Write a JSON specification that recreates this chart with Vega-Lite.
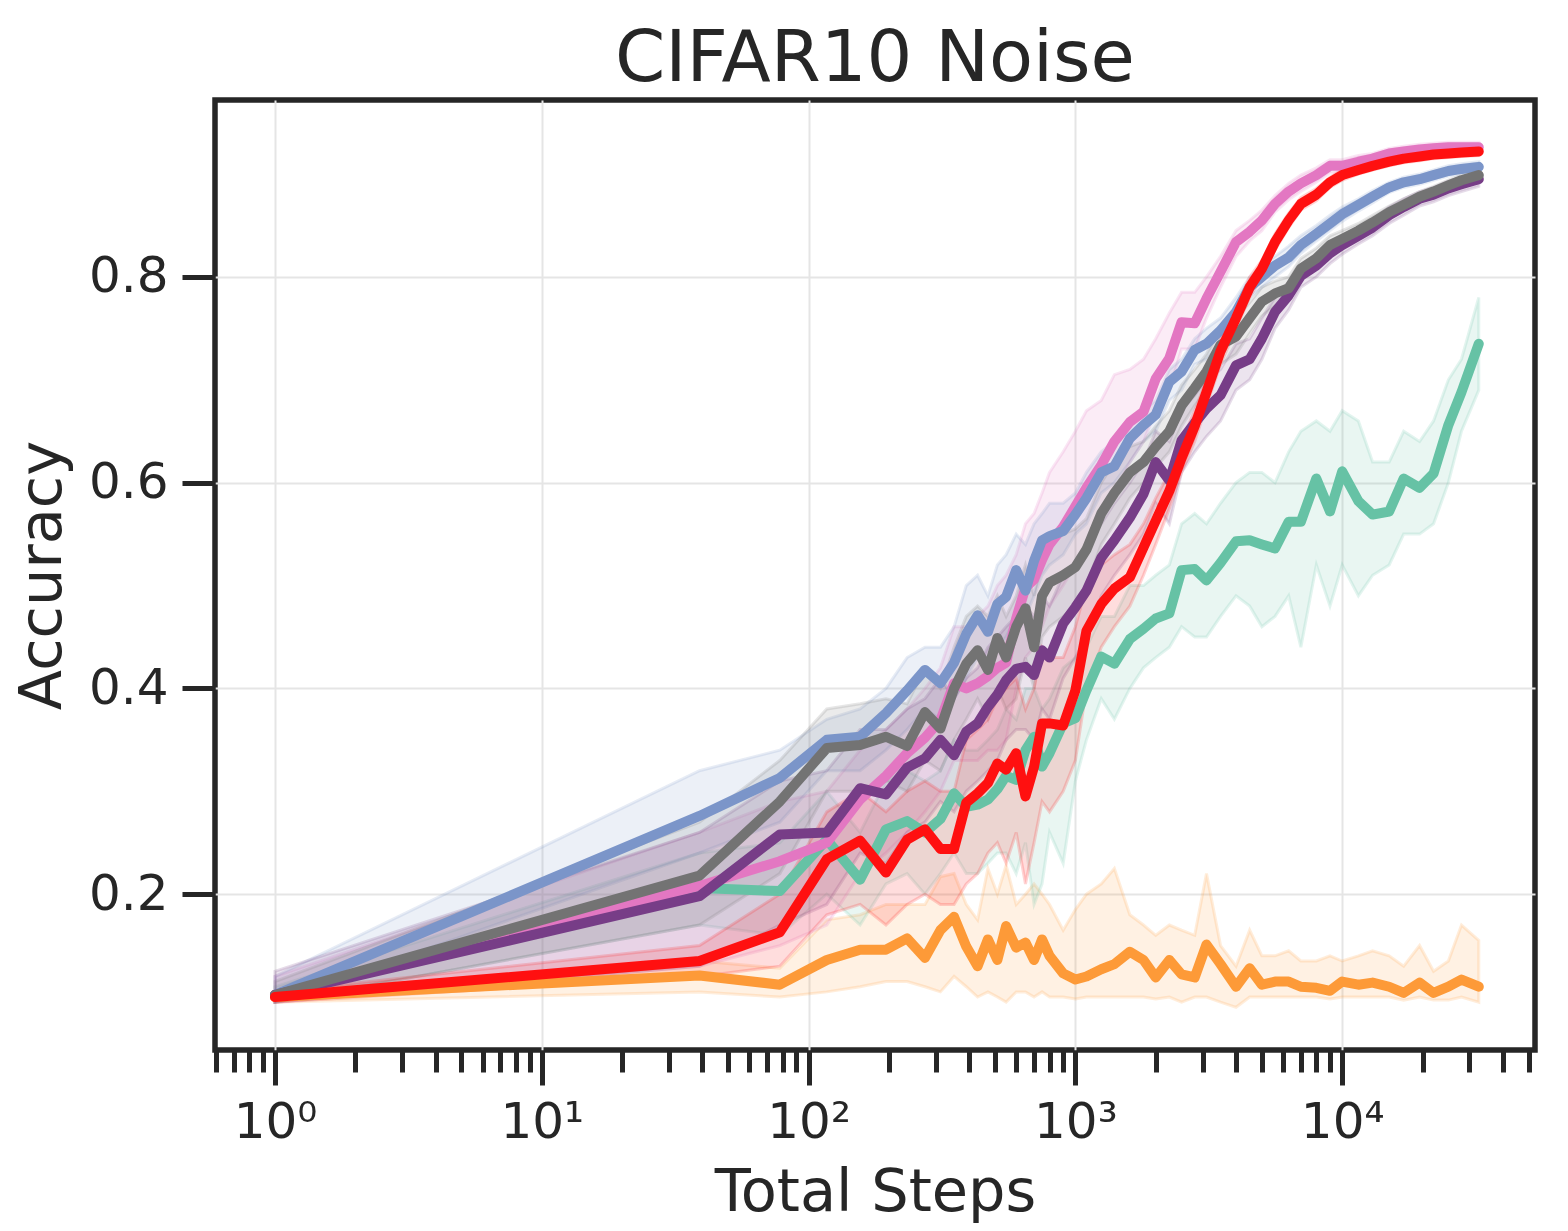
{
  "$schema": "https://vega.github.io/schema/vega-lite/v6.json",
  "width": 1320,
  "height": 950,
  "autosize": "none",
  "padding": {"left": 215, "top": 100, "right": 33, "bottom": 181},
  "background": "white",
  "title": {"text": "CIFAR10 Noise", "fontSize": 72, "font": "DejaVu Sans", "fontWeight": "normal", "color": "#262626", "offset": 4},
  "data": {
    "values": [
      {"s":"orange","x":1,"y":0.100,"lo":0.095,"hi":0.105},
      {"s":"orange","x":39,"y":0.121,"lo":0.105,"hi":0.135},
      {"s":"orange","x":78,"y":0.112,"lo":0.100,"hi":0.128},
      {"s":"orange","x":117,"y":0.136,"lo":0.105,"hi":0.175},
      {"s":"orange","x":156,"y":0.146,"lo":0.110,"hi":0.180},
      {"s":"orange","x":195,"y":0.146,"lo":0.115,"hi":0.190},
      {"s":"orange","x":234,"y":0.157,"lo":0.115,"hi":0.190},
      {"s":"orange","x":273,"y":0.138,"lo":0.110,"hi":0.190},
      {"s":"orange","x":312,"y":0.165,"lo":0.105,"hi":0.217},
      {"s":"orange","x":351,"y":0.178,"lo":0.120,"hi":0.220},
      {"s":"orange","x":390,"y":0.149,"lo":0.110,"hi":0.190},
      {"s":"orange","x":430,"y":0.130,"lo":0.100,"hi":0.175},
      {"s":"orange","x":470,"y":0.156,"lo":0.105,"hi":0.225},
      {"s":"orange","x":510,"y":0.136,"lo":0.100,"hi":0.200},
      {"s":"orange","x":550,"y":0.169,"lo":0.095,"hi":0.228},
      {"s":"orange","x":600,"y":0.148,"lo":0.105,"hi":0.190},
      {"s":"orange","x":650,"y":0.153,"lo":0.105,"hi":0.200},
      {"s":"orange","x":700,"y":0.136,"lo":0.100,"hi":0.210},
      {"s":"orange","x":750,"y":0.156,"lo":0.105,"hi":0.200},
      {"s":"orange","x":800,"y":0.140,"lo":0.100,"hi":0.190},
      {"s":"orange","x":900,"y":0.123,"lo":0.100,"hi":0.165},
      {"s":"orange","x":1000,"y":0.117,"lo":0.098,"hi":0.185},
      {"s":"orange","x":1100,"y":0.120,"lo":0.100,"hi":0.200},
      {"s":"orange","x":1250,"y":0.127,"lo":0.100,"hi":0.210},
      {"s":"orange","x":1400,"y":0.132,"lo":0.100,"hi":0.225},
      {"s":"orange","x":1600,"y":0.144,"lo":0.100,"hi":0.180},
      {"s":"orange","x":1800,"y":0.136,"lo":0.100,"hi":0.170},
      {"s":"orange","x":2000,"y":0.119,"lo":0.098,"hi":0.160},
      {"s":"orange","x":2250,"y":0.136,"lo":0.100,"hi":0.170},
      {"s":"orange","x":2500,"y":0.122,"lo":0.095,"hi":0.165},
      {"s":"orange","x":2800,"y":0.119,"lo":0.100,"hi":0.160},
      {"s":"orange","x":3100,"y":0.151,"lo":0.100,"hi":0.220},
      {"s":"orange","x":3500,"y":0.132,"lo":0.095,"hi":0.150},
      {"s":"orange","x":4000,"y":0.110,"lo":0.090,"hi":0.130},
      {"s":"orange","x":4500,"y":0.128,"lo":0.100,"hi":0.165},
      {"s":"orange","x":5000,"y":0.112,"lo":0.100,"hi":0.140},
      {"s":"orange","x":5600,"y":0.115,"lo":0.100,"hi":0.140},
      {"s":"orange","x":6300,"y":0.115,"lo":0.100,"hi":0.145},
      {"s":"orange","x":7000,"y":0.110,"lo":0.100,"hi":0.135},
      {"s":"orange","x":8000,"y":0.109,"lo":0.100,"hi":0.135},
      {"s":"orange","x":9000,"y":0.106,"lo":0.098,"hi":0.140},
      {"s":"orange","x":10000,"y":0.115,"lo":0.100,"hi":0.135},
      {"s":"orange","x":11500,"y":0.112,"lo":0.100,"hi":0.140},
      {"s":"orange","x":13000,"y":0.114,"lo":0.100,"hi":0.145},
      {"s":"orange","x":15000,"y":0.110,"lo":0.100,"hi":0.140},
      {"s":"orange","x":17000,"y":0.104,"lo":0.097,"hi":0.130},
      {"s":"orange","x":19500,"y":0.114,"lo":0.100,"hi":0.150},
      {"s":"orange","x":22000,"y":0.104,"lo":0.097,"hi":0.125},
      {"s":"orange","x":25000,"y":0.110,"lo":0.097,"hi":0.135},
      {"s":"orange","x":28000,"y":0.117,"lo":0.100,"hi":0.170},
      {"s":"orange","x":32500,"y":0.110,"lo":0.095,"hi":0.155},

      {"s":"teal","x":1,"y":0.102,"lo":0.095,"hi":0.110},
      {"s":"teal","x":39,"y":0.206,"lo":0.170,"hi":0.240},
      {"s":"teal","x":78,"y":0.203,"lo":0.160,"hi":0.250},
      {"s":"teal","x":117,"y":0.253,"lo":0.200,"hi":0.300},
      {"s":"teal","x":156,"y":0.214,"lo":0.170,"hi":0.260},
      {"s":"teal","x":195,"y":0.263,"lo":0.210,"hi":0.310},
      {"s":"teal","x":234,"y":0.271,"lo":0.220,"hi":0.320},
      {"s":"teal","x":273,"y":0.260,"lo":0.200,"hi":0.310},
      {"s":"teal","x":312,"y":0.273,"lo":0.220,"hi":0.320},
      {"s":"teal","x":351,"y":0.298,"lo":0.240,"hi":0.350},
      {"s":"teal","x":390,"y":0.285,"lo":0.220,"hi":0.340},
      {"s":"teal","x":430,"y":0.287,"lo":0.220,"hi":0.340},
      {"s":"teal","x":470,"y":0.292,"lo":0.230,"hi":0.350},
      {"s":"teal","x":510,"y":0.302,"lo":0.240,"hi":0.360},
      {"s":"teal","x":550,"y":0.315,"lo":0.240,"hi":0.380},
      {"s":"teal","x":600,"y":0.311,"lo":0.220,"hi":0.370},
      {"s":"teal","x":650,"y":0.340,"lo":0.250,"hi":0.400},
      {"s":"teal","x":700,"y":0.353,"lo":0.190,"hi":0.400},
      {"s":"teal","x":750,"y":0.324,"lo":0.210,"hi":0.380},
      {"s":"teal","x":800,"y":0.337,"lo":0.260,"hi":0.390},
      {"s":"teal","x":900,"y":0.366,"lo":0.230,"hi":0.420},
      {"s":"teal","x":1000,"y":0.371,"lo":0.310,"hi":0.430},
      {"s":"teal","x":1100,"y":0.398,"lo":0.350,"hi":0.440},
      {"s":"teal","x":1250,"y":0.431,"lo":0.390,"hi":0.470},
      {"s":"teal","x":1400,"y":0.424,"lo":0.370,"hi":0.470},
      {"s":"teal","x":1600,"y":0.448,"lo":0.400,"hi":0.500},
      {"s":"teal","x":1800,"y":0.458,"lo":0.420,"hi":0.500},
      {"s":"teal","x":2000,"y":0.468,"lo":0.430,"hi":0.510},
      {"s":"teal","x":2250,"y":0.473,"lo":0.440,"hi":0.520},
      {"s":"teal","x":2500,"y":0.515,"lo":0.460,"hi":0.560},
      {"s":"teal","x":2800,"y":0.516,"lo":0.450,"hi":0.570},
      {"s":"teal","x":3100,"y":0.505,"lo":0.450,"hi":0.560},
      {"s":"teal","x":3500,"y":0.522,"lo":0.470,"hi":0.580},
      {"s":"teal","x":4000,"y":0.543,"lo":0.490,"hi":0.600},
      {"s":"teal","x":4500,"y":0.544,"lo":0.480,"hi":0.610},
      {"s":"teal","x":5000,"y":0.540,"lo":0.460,"hi":0.610},
      {"s":"teal","x":5600,"y":0.536,"lo":0.470,"hi":0.600},
      {"s":"teal","x":6300,"y":0.562,"lo":0.490,"hi":0.630},
      {"s":"teal","x":7000,"y":0.562,"lo":0.440,"hi":0.650},
      {"s":"teal","x":8000,"y":0.604,"lo":0.520,"hi":0.660},
      {"s":"teal","x":9000,"y":0.572,"lo":0.480,"hi":0.650},
      {"s":"teal","x":10000,"y":0.611,"lo":0.520,"hi":0.670},
      {"s":"teal","x":11500,"y":0.582,"lo":0.490,"hi":0.660},
      {"s":"teal","x":13000,"y":0.569,"lo":0.510,"hi":0.620},
      {"s":"teal","x":15000,"y":0.572,"lo":0.520,"hi":0.620},
      {"s":"teal","x":17000,"y":0.604,"lo":0.550,"hi":0.650},
      {"s":"teal","x":19500,"y":0.595,"lo":0.550,"hi":0.640},
      {"s":"teal","x":22000,"y":0.609,"lo":0.560,"hi":0.660},
      {"s":"teal","x":25000,"y":0.656,"lo":0.600,"hi":0.700},
      {"s":"teal","x":28000,"y":0.688,"lo":0.650,"hi":0.720},
      {"s":"teal","x":32500,"y":0.735,"lo":0.690,"hi":0.780},

      {"s":"pink","x":1,"y":0.102,"lo":0.095,"hi":0.120},
      {"s":"pink","x":39,"y":0.208,"lo":0.130,"hi":0.260},
      {"s":"pink","x":78,"y":0.232,"lo":0.150,"hi":0.290},
      {"s":"pink","x":117,"y":0.250,"lo":0.170,"hi":0.300},
      {"s":"pink","x":156,"y":0.292,"lo":0.220,"hi":0.340},
      {"s":"pink","x":195,"y":0.315,"lo":0.240,"hi":0.360},
      {"s":"pink","x":234,"y":0.337,"lo":0.260,"hi":0.380},
      {"s":"pink","x":273,"y":0.352,"lo":0.280,"hi":0.400},
      {"s":"pink","x":312,"y":0.369,"lo":0.300,"hi":0.420},
      {"s":"pink","x":351,"y":0.405,"lo":0.330,"hi":0.460},
      {"s":"pink","x":390,"y":0.400,"lo":0.330,"hi":0.460},
      {"s":"pink","x":430,"y":0.405,"lo":0.330,"hi":0.470},
      {"s":"pink","x":470,"y":0.412,"lo":0.340,"hi":0.480},
      {"s":"pink","x":510,"y":0.420,"lo":0.340,"hi":0.500},
      {"s":"pink","x":550,"y":0.425,"lo":0.350,"hi":0.510},
      {"s":"pink","x":600,"y":0.468,"lo":0.400,"hi":0.530},
      {"s":"pink","x":650,"y":0.498,"lo":0.430,"hi":0.560},
      {"s":"pink","x":700,"y":0.506,"lo":0.440,"hi":0.570},
      {"s":"pink","x":750,"y":0.525,"lo":0.460,"hi":0.590},
      {"s":"pink","x":800,"y":0.540,"lo":0.480,"hi":0.610},
      {"s":"pink","x":900,"y":0.557,"lo":0.500,"hi":0.630},
      {"s":"pink","x":1000,"y":0.577,"lo":0.520,"hi":0.650},
      {"s":"pink","x":1100,"y":0.595,"lo":0.540,"hi":0.670},
      {"s":"pink","x":1250,"y":0.617,"lo":0.570,"hi":0.680},
      {"s":"pink","x":1400,"y":0.640,"lo":0.590,"hi":0.705},
      {"s":"pink","x":1600,"y":0.659,"lo":0.620,"hi":0.710},
      {"s":"pink","x":1800,"y":0.669,"lo":0.640,"hi":0.720},
      {"s":"pink","x":2000,"y":0.701,"lo":0.670,"hi":0.740},
      {"s":"pink","x":2250,"y":0.721,"lo":0.690,"hi":0.765},
      {"s":"pink","x":2500,"y":0.756,"lo":0.730,"hi":0.785},
      {"s":"pink","x":2800,"y":0.755,"lo":0.730,"hi":0.785},
      {"s":"pink","x":3100,"y":0.779,"lo":0.760,"hi":0.800},
      {"s":"pink","x":3500,"y":0.805,"lo":0.790,"hi":0.820},
      {"s":"pink","x":4000,"y":0.834,"lo":0.820,"hi":0.845},
      {"s":"pink","x":4500,"y":0.844,"lo":0.835,"hi":0.855},
      {"s":"pink","x":5000,"y":0.855,"lo":0.845,"hi":0.865},
      {"s":"pink","x":5600,"y":0.871,"lo":0.863,"hi":0.879},
      {"s":"pink","x":6300,"y":0.883,"lo":0.875,"hi":0.891},
      {"s":"pink","x":7000,"y":0.891,"lo":0.883,"hi":0.899},
      {"s":"pink","x":8000,"y":0.899,"lo":0.892,"hi":0.906},
      {"s":"pink","x":9000,"y":0.908,"lo":0.901,"hi":0.914},
      {"s":"pink","x":10000,"y":0.908,"lo":0.902,"hi":0.914},
      {"s":"pink","x":11500,"y":0.912,"lo":0.906,"hi":0.918},
      {"s":"pink","x":13000,"y":0.915,"lo":0.910,"hi":0.920},
      {"s":"pink","x":15000,"y":0.920,"lo":0.915,"hi":0.925},
      {"s":"pink","x":17000,"y":0.922,"lo":0.917,"hi":0.927},
      {"s":"pink","x":19500,"y":0.924,"lo":0.919,"hi":0.929},
      {"s":"pink","x":22000,"y":0.925,"lo":0.920,"hi":0.930},
      {"s":"pink","x":25000,"y":0.926,"lo":0.921,"hi":0.931},
      {"s":"pink","x":28000,"y":0.926,"lo":0.921,"hi":0.931},
      {"s":"pink","x":32500,"y":0.926,"lo":0.921,"hi":0.931},

      {"s":"blue","x":1,"y":0.102,"lo":0.095,"hi":0.120},
      {"s":"blue","x":39,"y":0.276,"lo":0.240,"hi":0.320},
      {"s":"blue","x":78,"y":0.313,"lo":0.270,"hi":0.340},
      {"s":"blue","x":117,"y":0.350,"lo":0.320,"hi":0.370},
      {"s":"blue","x":156,"y":0.353,"lo":0.320,"hi":0.380},
      {"s":"blue","x":195,"y":0.376,"lo":0.340,"hi":0.400},
      {"s":"blue","x":234,"y":0.398,"lo":0.360,"hi":0.430},
      {"s":"blue","x":273,"y":0.418,"lo":0.380,"hi":0.440},
      {"s":"blue","x":312,"y":0.405,"lo":0.370,"hi":0.440},
      {"s":"blue","x":351,"y":0.425,"lo":0.390,"hi":0.460},
      {"s":"blue","x":390,"y":0.453,"lo":0.410,"hi":0.500},
      {"s":"blue","x":430,"y":0.471,"lo":0.430,"hi":0.510},
      {"s":"blue","x":470,"y":0.455,"lo":0.420,"hi":0.490},
      {"s":"blue","x":510,"y":0.482,"lo":0.440,"hi":0.520},
      {"s":"blue","x":550,"y":0.489,"lo":0.450,"hi":0.530},
      {"s":"blue","x":600,"y":0.515,"lo":0.470,"hi":0.550},
      {"s":"blue","x":650,"y":0.495,"lo":0.470,"hi":0.540},
      {"s":"blue","x":700,"y":0.524,"lo":0.490,"hi":0.560},
      {"s":"blue","x":750,"y":0.544,"lo":0.510,"hi":0.570},
      {"s":"blue","x":800,"y":0.548,"lo":0.520,"hi":0.580},
      {"s":"blue","x":900,"y":0.553,"lo":0.530,"hi":0.580},
      {"s":"blue","x":1000,"y":0.569,"lo":0.550,"hi":0.590},
      {"s":"blue","x":1100,"y":0.585,"lo":0.560,"hi":0.610},
      {"s":"blue","x":1250,"y":0.610,"lo":0.590,"hi":0.630},
      {"s":"blue","x":1400,"y":0.616,"lo":0.600,"hi":0.640},
      {"s":"blue","x":1600,"y":0.643,"lo":0.620,"hi":0.660},
      {"s":"blue","x":1800,"y":0.656,"lo":0.640,"hi":0.670},
      {"s":"blue","x":2000,"y":0.666,"lo":0.650,"hi":0.680},
      {"s":"blue","x":2250,"y":0.698,"lo":0.680,"hi":0.710},
      {"s":"blue","x":2500,"y":0.708,"lo":0.690,"hi":0.720},
      {"s":"blue","x":2800,"y":0.729,"lo":0.715,"hi":0.740},
      {"s":"blue","x":3100,"y":0.735,"lo":0.720,"hi":0.750},
      {"s":"blue","x":3500,"y":0.748,"lo":0.735,"hi":0.760},
      {"s":"blue","x":4000,"y":0.766,"lo":0.755,"hi":0.780},
      {"s":"blue","x":4500,"y":0.790,"lo":0.780,"hi":0.800},
      {"s":"blue","x":5000,"y":0.800,"lo":0.790,"hi":0.810},
      {"s":"blue","x":5600,"y":0.811,"lo":0.800,"hi":0.820},
      {"s":"blue","x":6300,"y":0.819,"lo":0.810,"hi":0.830},
      {"s":"blue","x":7000,"y":0.831,"lo":0.823,"hi":0.840},
      {"s":"blue","x":8000,"y":0.842,"lo":0.835,"hi":0.850},
      {"s":"blue","x":9000,"y":0.852,"lo":0.845,"hi":0.860},
      {"s":"blue","x":10000,"y":0.861,"lo":0.854,"hi":0.868},
      {"s":"blue","x":11500,"y":0.870,"lo":0.864,"hi":0.876},
      {"s":"blue","x":13000,"y":0.878,"lo":0.872,"hi":0.884},
      {"s":"blue","x":15000,"y":0.887,"lo":0.882,"hi":0.892},
      {"s":"blue","x":17000,"y":0.892,"lo":0.887,"hi":0.897},
      {"s":"blue","x":19500,"y":0.895,"lo":0.890,"hi":0.900},
      {"s":"blue","x":22000,"y":0.899,"lo":0.894,"hi":0.904},
      {"s":"blue","x":25000,"y":0.903,"lo":0.898,"hi":0.908},
      {"s":"blue","x":28000,"y":0.905,"lo":0.900,"hi":0.910},
      {"s":"blue","x":32500,"y":0.907,"lo":0.902,"hi":0.912},

      {"s":"purple","x":1,"y":0.102,"lo":0.095,"hi":0.125},
      {"s":"purple","x":39,"y":0.198,"lo":0.130,"hi":0.260},
      {"s":"purple","x":78,"y":0.258,"lo":0.170,"hi":0.310},
      {"s":"purple","x":117,"y":0.260,"lo":0.190,"hi":0.320},
      {"s":"purple","x":156,"y":0.303,"lo":0.240,"hi":0.360},
      {"s":"purple","x":195,"y":0.297,"lo":0.230,"hi":0.360},
      {"s":"purple","x":234,"y":0.323,"lo":0.260,"hi":0.380},
      {"s":"purple","x":273,"y":0.332,"lo":0.270,"hi":0.390},
      {"s":"purple","x":312,"y":0.350,"lo":0.290,"hi":0.410},
      {"s":"purple","x":351,"y":0.335,"lo":0.280,"hi":0.390},
      {"s":"purple","x":390,"y":0.358,"lo":0.300,"hi":0.410},
      {"s":"purple","x":430,"y":0.366,"lo":0.310,"hi":0.420},
      {"s":"purple","x":470,"y":0.382,"lo":0.320,"hi":0.440},
      {"s":"purple","x":510,"y":0.394,"lo":0.330,"hi":0.450},
      {"s":"purple","x":550,"y":0.408,"lo":0.350,"hi":0.460},
      {"s":"purple","x":600,"y":0.419,"lo":0.360,"hi":0.470},
      {"s":"purple","x":650,"y":0.421,"lo":0.360,"hi":0.480},
      {"s":"purple","x":700,"y":0.413,"lo":0.350,"hi":0.470},
      {"s":"purple","x":750,"y":0.437,"lo":0.380,"hi":0.490},
      {"s":"purple","x":800,"y":0.430,"lo":0.370,"hi":0.480},
      {"s":"purple","x":900,"y":0.463,"lo":0.410,"hi":0.510},
      {"s":"purple","x":1000,"y":0.479,"lo":0.430,"hi":0.520},
      {"s":"purple","x":1100,"y":0.495,"lo":0.450,"hi":0.540},
      {"s":"purple","x":1250,"y":0.527,"lo":0.490,"hi":0.560},
      {"s":"purple","x":1400,"y":0.544,"lo":0.510,"hi":0.580},
      {"s":"purple","x":1600,"y":0.566,"lo":0.530,"hi":0.600},
      {"s":"purple","x":1800,"y":0.589,"lo":0.550,"hi":0.620},
      {"s":"purple","x":2000,"y":0.620,"lo":0.580,"hi":0.650},
      {"s":"purple","x":2250,"y":0.602,"lo":0.560,"hi":0.640},
      {"s":"purple","x":2500,"y":0.641,"lo":0.610,"hi":0.670},
      {"s":"purple","x":2800,"y":0.658,"lo":0.630,"hi":0.685},
      {"s":"purple","x":3100,"y":0.672,"lo":0.645,"hi":0.700},
      {"s":"purple","x":3500,"y":0.685,"lo":0.660,"hi":0.710},
      {"s":"purple","x":4000,"y":0.714,"lo":0.690,"hi":0.735},
      {"s":"purple","x":4500,"y":0.720,"lo":0.700,"hi":0.740},
      {"s":"purple","x":5000,"y":0.740,"lo":0.720,"hi":0.760},
      {"s":"purple","x":5600,"y":0.766,"lo":0.750,"hi":0.780},
      {"s":"purple","x":6300,"y":0.782,"lo":0.768,"hi":0.795},
      {"s":"purple","x":7000,"y":0.801,"lo":0.790,"hi":0.812},
      {"s":"purple","x":8000,"y":0.811,"lo":0.800,"hi":0.822},
      {"s":"purple","x":9000,"y":0.823,"lo":0.813,"hi":0.833},
      {"s":"purple","x":10000,"y":0.831,"lo":0.822,"hi":0.840},
      {"s":"purple","x":11500,"y":0.840,"lo":0.832,"hi":0.848},
      {"s":"purple","x":13000,"y":0.848,"lo":0.840,"hi":0.856},
      {"s":"purple","x":15000,"y":0.860,"lo":0.852,"hi":0.868},
      {"s":"purple","x":17000,"y":0.868,"lo":0.860,"hi":0.876},
      {"s":"purple","x":19500,"y":0.876,"lo":0.869,"hi":0.883},
      {"s":"purple","x":22000,"y":0.880,"lo":0.873,"hi":0.887},
      {"s":"purple","x":25000,"y":0.886,"lo":0.879,"hi":0.893},
      {"s":"purple","x":28000,"y":0.890,"lo":0.883,"hi":0.897},
      {"s":"purple","x":32500,"y":0.895,"lo":0.888,"hi":0.902},

      {"s":"gray","x":1,"y":0.102,"lo":0.095,"hi":0.115},
      {"s":"gray","x":39,"y":0.218,"lo":0.170,"hi":0.270},
      {"s":"gray","x":78,"y":0.290,"lo":0.220,"hi":0.330},
      {"s":"gray","x":117,"y":0.342,"lo":0.300,"hi":0.380},
      {"s":"gray","x":156,"y":0.345,"lo":0.300,"hi":0.385},
      {"s":"gray","x":195,"y":0.353,"lo":0.310,"hi":0.390},
      {"s":"gray","x":234,"y":0.344,"lo":0.300,"hi":0.385},
      {"s":"gray","x":273,"y":0.377,"lo":0.330,"hi":0.420},
      {"s":"gray","x":312,"y":0.361,"lo":0.320,"hi":0.400},
      {"s":"gray","x":351,"y":0.400,"lo":0.350,"hi":0.440},
      {"s":"gray","x":390,"y":0.424,"lo":0.370,"hi":0.470},
      {"s":"gray","x":430,"y":0.437,"lo":0.390,"hi":0.480},
      {"s":"gray","x":470,"y":0.418,"lo":0.370,"hi":0.470},
      {"s":"gray","x":510,"y":0.449,"lo":0.400,"hi":0.490},
      {"s":"gray","x":550,"y":0.430,"lo":0.380,"hi":0.470},
      {"s":"gray","x":600,"y":0.460,"lo":0.390,"hi":0.490},
      {"s":"gray","x":650,"y":0.478,"lo":0.430,"hi":0.520},
      {"s":"gray","x":700,"y":0.440,"lo":0.400,"hi":0.490},
      {"s":"gray","x":750,"y":0.490,"lo":0.450,"hi":0.530},
      {"s":"gray","x":800,"y":0.503,"lo":0.460,"hi":0.540},
      {"s":"gray","x":900,"y":0.510,"lo":0.470,"hi":0.550},
      {"s":"gray","x":1000,"y":0.518,"lo":0.480,"hi":0.555},
      {"s":"gray","x":1100,"y":0.535,"lo":0.500,"hi":0.565},
      {"s":"gray","x":1250,"y":0.570,"lo":0.540,"hi":0.600},
      {"s":"gray","x":1400,"y":0.590,"lo":0.560,"hi":0.620},
      {"s":"gray","x":1600,"y":0.610,"lo":0.585,"hi":0.635},
      {"s":"gray","x":1800,"y":0.620,"lo":0.600,"hi":0.640},
      {"s":"gray","x":2000,"y":0.635,"lo":0.615,"hi":0.655},
      {"s":"gray","x":2250,"y":0.650,"lo":0.630,"hi":0.670},
      {"s":"gray","x":2500,"y":0.675,"lo":0.655,"hi":0.695},
      {"s":"gray","x":2800,"y":0.692,"lo":0.675,"hi":0.710},
      {"s":"gray","x":3100,"y":0.708,"lo":0.690,"hi":0.725},
      {"s":"gray","x":3500,"y":0.734,"lo":0.715,"hi":0.750},
      {"s":"gray","x":4000,"y":0.742,"lo":0.725,"hi":0.760},
      {"s":"gray","x":4500,"y":0.760,"lo":0.745,"hi":0.775},
      {"s":"gray","x":5000,"y":0.776,"lo":0.762,"hi":0.790},
      {"s":"gray","x":5600,"y":0.784,"lo":0.772,"hi":0.796},
      {"s":"gray","x":6300,"y":0.789,"lo":0.778,"hi":0.800},
      {"s":"gray","x":7000,"y":0.808,"lo":0.798,"hi":0.818},
      {"s":"gray","x":8000,"y":0.818,"lo":0.808,"hi":0.828},
      {"s":"gray","x":9000,"y":0.831,"lo":0.822,"hi":0.840},
      {"s":"gray","x":10000,"y":0.837,"lo":0.829,"hi":0.845},
      {"s":"gray","x":11500,"y":0.845,"lo":0.838,"hi":0.852},
      {"s":"gray","x":13000,"y":0.853,"lo":0.846,"hi":0.860},
      {"s":"gray","x":15000,"y":0.863,"lo":0.857,"hi":0.869},
      {"s":"gray","x":17000,"y":0.870,"lo":0.864,"hi":0.876},
      {"s":"gray","x":19500,"y":0.878,"lo":0.873,"hi":0.883},
      {"s":"gray","x":22000,"y":0.883,"lo":0.878,"hi":0.888},
      {"s":"gray","x":25000,"y":0.889,"lo":0.884,"hi":0.894},
      {"s":"gray","x":28000,"y":0.894,"lo":0.889,"hi":0.899},
      {"s":"gray","x":32500,"y":0.899,"lo":0.894,"hi":0.904},

      {"s":"red","x":1,"y":0.100,"lo":0.095,"hi":0.105},
      {"s":"red","x":39,"y":0.135,"lo":0.120,"hi":0.150},
      {"s":"red","x":78,"y":0.163,"lo":0.130,"hi":0.200},
      {"s":"red","x":117,"y":0.234,"lo":0.180,"hi":0.280},
      {"s":"red","x":156,"y":0.252,"lo":0.190,"hi":0.300},
      {"s":"red","x":195,"y":0.221,"lo":0.170,"hi":0.280},
      {"s":"red","x":234,"y":0.253,"lo":0.190,"hi":0.300},
      {"s":"red","x":273,"y":0.263,"lo":0.200,"hi":0.310},
      {"s":"red","x":312,"y":0.244,"lo":0.190,"hi":0.300},
      {"s":"red","x":351,"y":0.244,"lo":0.190,"hi":0.300},
      {"s":"red","x":390,"y":0.289,"lo":0.210,"hi":0.350},
      {"s":"red","x":430,"y":0.298,"lo":0.220,"hi":0.360},
      {"s":"red","x":470,"y":0.308,"lo":0.240,"hi":0.370},
      {"s":"red","x":510,"y":0.327,"lo":0.250,"hi":0.390},
      {"s":"red","x":550,"y":0.321,"lo":0.230,"hi":0.400},
      {"s":"red","x":600,"y":0.337,"lo":0.260,"hi":0.410},
      {"s":"red","x":650,"y":0.295,"lo":0.210,"hi":0.380},
      {"s":"red","x":700,"y":0.324,"lo":0.250,"hi":0.400},
      {"s":"red","x":750,"y":0.366,"lo":0.290,"hi":0.440},
      {"s":"red","x":800,"y":0.366,"lo":0.280,"hi":0.430},
      {"s":"red","x":900,"y":0.364,"lo":0.300,"hi":0.430},
      {"s":"red","x":1000,"y":0.398,"lo":0.330,"hi":0.460},
      {"s":"red","x":1100,"y":0.456,"lo":0.400,"hi":0.500},
      {"s":"red","x":1250,"y":0.482,"lo":0.440,"hi":0.520},
      {"s":"red","x":1400,"y":0.497,"lo":0.460,"hi":0.530},
      {"s":"red","x":1600,"y":0.508,"lo":0.480,"hi":0.540},
      {"s":"red","x":1800,"y":0.537,"lo":0.510,"hi":0.560},
      {"s":"red","x":2000,"y":0.563,"lo":0.540,"hi":0.585},
      {"s":"red","x":2250,"y":0.592,"lo":0.575,"hi":0.610},
      {"s":"red","x":2500,"y":0.624,"lo":0.610,"hi":0.640},
      {"s":"red","x":2800,"y":0.655,"lo":0.640,"hi":0.670},
      {"s":"red","x":3100,"y":0.688,"lo":0.675,"hi":0.700},
      {"s":"red","x":3500,"y":0.728,"lo":0.715,"hi":0.740},
      {"s":"red","x":4000,"y":0.760,"lo":0.750,"hi":0.770},
      {"s":"red","x":4500,"y":0.790,"lo":0.780,"hi":0.800},
      {"s":"red","x":5000,"y":0.808,"lo":0.800,"hi":0.816},
      {"s":"red","x":5600,"y":0.834,"lo":0.826,"hi":0.842},
      {"s":"red","x":6300,"y":0.855,"lo":0.848,"hi":0.862},
      {"s":"red","x":7000,"y":0.871,"lo":0.865,"hi":0.877},
      {"s":"red","x":8000,"y":0.880,"lo":0.874,"hi":0.886},
      {"s":"red","x":9000,"y":0.892,"lo":0.887,"hi":0.897},
      {"s":"red","x":10000,"y":0.899,"lo":0.894,"hi":0.904},
      {"s":"red","x":11500,"y":0.904,"lo":0.900,"hi":0.908},
      {"s":"red","x":13000,"y":0.908,"lo":0.904,"hi":0.912},
      {"s":"red","x":15000,"y":0.912,"lo":0.908,"hi":0.916},
      {"s":"red","x":17000,"y":0.915,"lo":0.911,"hi":0.919},
      {"s":"red","x":19500,"y":0.917,"lo":0.913,"hi":0.921},
      {"s":"red","x":22000,"y":0.919,"lo":0.915,"hi":0.923},
      {"s":"red","x":25000,"y":0.920,"lo":0.916,"hi":0.924},
      {"s":"red","x":28000,"y":0.921,"lo":0.917,"hi":0.925},
      {"s":"red","x":32500,"y":0.922,"lo":0.918,"hi":0.926}
    ]
  },
  "encoding": {
    "x": {
      "field": "x",
      "type": "quantitative",
      "title": "Total Steps",
      "scale": {"type": "log", "domain": [0.596, 52800], "nice": false},
      "axis": {
        "values": [0.6, 0.7, 0.8, 0.9, 1, 2, 3, 4, 5, 6, 7, 8, 9, 10, 20, 30, 40, 50, 60, 70, 80, 90, 100, 200, 300, 400, 500, 600, 700, 800, 900, 1000, 2000, 3000, 4000, 5000, 6000, 7000, 8000, 9000, 10000, 20000, 30000, 40000, 50000],
        "labelExpr": "datum.value == 1 ? '10⁰' : datum.value == 10 ? '10¹' : datum.value == 100 ? '10²' : datum.value == 1000 ? '10³' : datum.value == 10000 ? '10⁴' : ''",
        "labelOverlap": false,
        "labelFlush": false,
        "labelFontSize": 50,
        "labelPadding": 12,
        "tickSize": {"condition": {"test": "indexof([1, 10, 100, 1000, 10000], datum.value) >= 0", "value": 35}, "value": 22},
        "tickWidth": 5,
        "gridOpacity": {"condition": {"test": "indexof([1, 10, 100, 1000, 10000], datum.value) >= 0", "value": 1}, "value": 0},
        "titleFontSize": 59,
        "titlePadding": 16
      }
    }
  },
  "layer": [
    {
      "mark": {"type": "area", "fillOpacity": 0.14, "strokeOpacity": 0.18, "strokeWidth": 3},
      "encoding": {
        "y": {"field": "lo", "type": "quantitative", "title": "Accuracy",
          "scale": {"domain": [0.0485, 0.972], "nice": false, "zero": false},
          "axis": {"values": [0.2, 0.4, 0.6, 0.8], "format": ".1f", "labelFontSize": 50, "tickSize": 33, "tickWidth": 5, "labelPadding": 14, "titleFontSize": 59, "titlePadding": 16}},
        "y2": {"field": "hi"},
        "color": {"field": "s", "type": "nominal", "legend": null,
          "scale": {"domain": ["orange", "teal", "pink", "blue", "purple", "gray", "red"], "range": ["#fd9a38", "#66c2a5", "#e377c2", "#7b95c9", "#773d87", "#737373", "#ff1010"]}},
        "stroke": {"field": "s", "type": "nominal", "legend": null,
          "scale": {"domain": ["orange", "teal", "pink", "blue", "purple", "gray", "red"], "range": ["#fd9a38", "#66c2a5", "#e377c2", "#7b95c9", "#773d87", "#737373", "#ff1010"]}}
      }
    },
    {
      "mark": {"type": "line", "strokeWidth": 10, "strokeJoin": "round", "strokeCap": "round"},
      "encoding": {
        "y": {"field": "y", "type": "quantitative", "title": "Accuracy",
          "scale": {"domain": [0.0485, 0.972], "nice": false, "zero": false},
          "axis": {"values": [0.2, 0.4, 0.6, 0.8], "format": ".1f", "labelFontSize": 50, "tickSize": 33, "tickWidth": 5, "labelPadding": 14, "titleFontSize": 59, "titlePadding": 16}},
        "color": {"field": "s", "type": "nominal", "legend": null,
          "scale": {"domain": ["orange", "teal", "pink", "blue", "purple", "gray", "red"], "range": ["#fd9a38", "#66c2a5", "#e377c2", "#7b95c9", "#773d87", "#737373", "#ff1010"]}}
      }
    }
  ],
  "config": {
    "view": {"stroke": "#262626", "strokeWidth": 5.5},
    "font": "DejaVu Sans",
    "axis": {
      "domain": false,
      "grid": true,
      "gridColor": "#e5e5e5",
      "gridWidth": 2,
      "tickColor": "#262626",
      "labelColor": "#262626",
      "titleColor": "#262626",
      "labelFont": "DejaVu Sans",
      "titleFont": "DejaVu Sans",
      "titleFontWeight": "normal"
    }
  }
}
